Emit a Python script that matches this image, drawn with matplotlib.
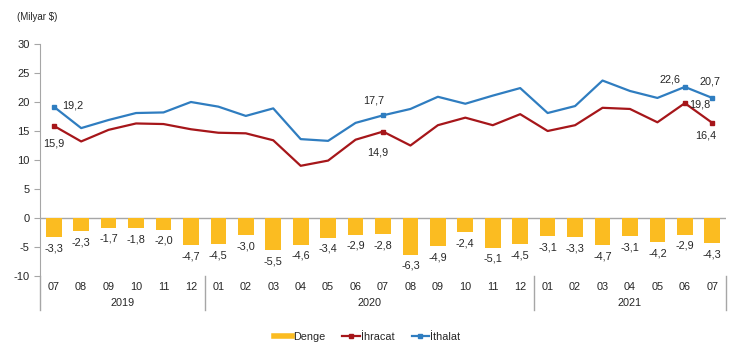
import numpy as np
import matplotlib
matplotlib.use("Agg")
import matplotlib.pyplot as plt
from matplotlib.lines import Line2D

plt.rcParams['font.family'] = ['Liberation Sans', 'DejaVu Sans']
plt.rcParams['axes.unicode_minus'] = False

# Monthly foreign trade, billion USD (07/2019 - 07/2021)
months = ['07', '08', '09', '10', '11', '12',
          '01', '02', '03', '04', '05', '06', '07', '08', '09', '10', '11', '12',
          '01', '02', '03', '04', '05', '06', '07']
years = ['2019', '2020', '2021']
year_span = [(0, 5), (6, 17), (18, 24)]

denge = [-3.3, -2.3, -1.7, -1.8, -2.0, -4.7,
         -4.5, -3.0, -5.5, -4.6, -3.4, -2.9, -2.8, -6.3, -4.9, -2.4, -5.1, -4.5,
         -3.1, -3.3, -4.7, -3.1, -4.2, -2.9, -4.3]
ihracat = [15.9, 13.2, 15.2, 16.3, 16.2, 15.3,
           14.7, 14.6, 13.4, 9.0, 9.9, 13.5, 14.9, 12.5, 16.0, 17.3, 16.0, 17.9,
           15.0, 16.0, 19.0, 18.8, 16.5, 19.8, 16.4]
ithalat = [19.2, 15.5, 16.9, 18.1, 18.2, 20.0,
           19.2, 17.6, 18.9, 13.6, 13.3, 16.4, 17.7, 18.8, 20.9, 19.7, 21.1, 22.4,
           18.1, 19.3, 23.7, 21.9, 20.7, 22.6, 20.7]
marked = [0, 12, 23, 24]

BAR_C = '#FBBC21'
RED = '#A6161A'
BLUE = '#2F7DC0'
GRID = '#A6A6A6'
TXT = '#262626'

fig = plt.figure(figsize=(7.3, 3.49), dpi=100)
ax = fig.add_axes([40/730, 73/349, 686/730, 232/349])

x = np.arange(len(months))
ax.bar(x, denge, width=0.57, color=BAR_C, zorder=2)
ax.plot(x, ihracat, color=RED, lw=1.6, zorder=3)
ax.plot(x, ithalat, color=BLUE, lw=1.6, zorder=3)
ax.plot(x[marked], np.array(ihracat)[marked], 's', color=RED, ms=3.5, zorder=4)
ax.plot(x[marked], np.array(ithalat)[marked], 's', color=BLUE, ms=3.5, zorder=4)

fmt = lambda v: f"{v:.1f}".replace('.', ',')

# bar value labels under each bar
for xi, v in zip(x, denge):
    ax.annotate(fmt(v), (xi, v), xytext=(0, -8), textcoords='offset points',
                ha='center', va='center', fontsize=7.8, color=TXT)

# line labels at marked points
line_labels = [
    (ithalat, 0, (14, 1)),
    (ihracat, 0, (0, -13)),
    (ithalat, 12, (-7, 11)),
    (ihracat, 12, (-4, -15)),
    (ithalat, 23, (-11, 5)),
    (ithalat, 24, (-2, 12)),
    (ihracat, 23, (11, -1)),
    (ihracat, 24, (-5, -9)),
]
for series, i, off in line_labels:
    ax.annotate(fmt(series[i]), (x[i], series[i]), xytext=off, textcoords='offset points',
                ha='center', va='center', fontsize=7.8, color=TXT)

ax.set_xlim(-0.5, len(months) - 0.5)
ax.set_ylim(-10, 30)
ax.set_yticks(np.arange(-10, 31, 5))
ax.tick_params(axis='y', length=4, color=GRID, labelsize=8, labelcolor=TXT)
ax.set_xticks([])
for s in ['top', 'right', 'bottom']:
    ax.spines[s].set_visible(False)
ax.spines['left'].set_color(GRID)
ax.axhline(0, color=GRID, lw=1, zorder=1)

# category axis below the plot: months, years and separators
ax.plot([-0.5, -0.5], [0, -0.147], color=GRID, lw=1, transform=ax.get_xaxis_transform(), clip_on=False)
for xi, m in zip(x, months):
    ax.text(xi, -0.047, m, transform=ax.get_xaxis_transform(), ha='center', va='center',
            fontsize=7.8, color=TXT)
for yr, (a, b) in zip(years, year_span):
    ax.text((a + b) / 2, -0.116, yr, transform=ax.get_xaxis_transform(), ha='center',
            va='center', fontsize=7.8, color=TXT)
    ax.plot([b + 0.5, b + 0.5], [0, -0.147], color=GRID, lw=1,
            transform=ax.get_xaxis_transform(), clip_on=False)

fig.text(17/730, 1 - 17/349, '(Milyar $)', fontsize=7, color=TXT, va='center')

handles = [
    Line2D([], [], color=BAR_C, lw=4),
    Line2D([], [], color=RED, lw=1.6, marker='s', ms=3.5),
    Line2D([], [], color=BLUE, lw=1.6, marker='s', ms=3.5),
]
fig.legend(handles, ['Denge', 'İhracat', 'İthalat'], loc='center', bbox_to_anchor=(0.503, 1 - 337/349),
           ncol=3, frameon=False, fontsize=7.8, handlelength=1.6, handletextpad=0.1,
           columnspacing=1.6, labelcolor=TXT)

fig.savefig('out.png', dpi=100)
